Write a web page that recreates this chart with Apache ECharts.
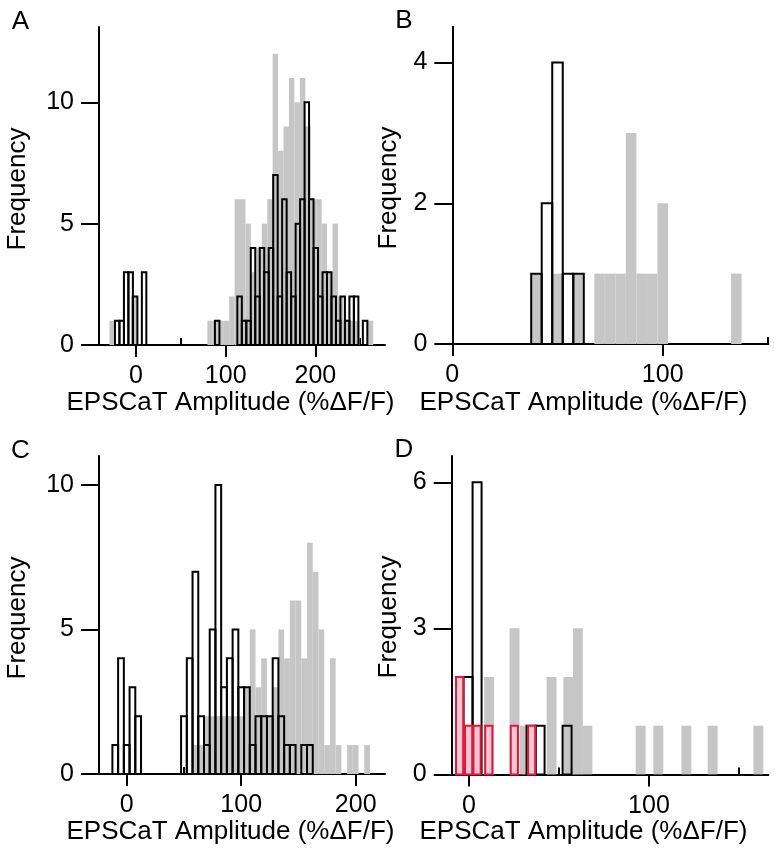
<!DOCTYPE html>
<html><head><meta charset="utf-8">
<script src="https://cdn.jsdelivr.net/npm/echarts@6/dist/echarts.min.js"></script>
<style>html,body{margin:0;padding:0;background:#fff}#c{width:774px;height:853px}</style>
</head><body><div id="c"></div>
<script>
// ---------- data (bin centres, counts) ----------
const xTitle = 'EPSCaT Amplitude (%ΔF/F)';
const yTitle = 'Frequency';
const panelLetters = ['A', 'B', 'C', 'D'];

// Panel A
const aGreyX = [-26.6, -2.3, 82.6, 88.7, 94.8, 100.8, 106.9, 113.0, 119.0, 125.1, 131.2, 137.2, 143.3, 149.4, 155.4, 161.5, 167.6, 173.6, 179.7, 185.8, 191.8, 197.9, 204.0, 210.0, 216.1, 222.2, 228.2, 234.3, 240.4, 246.4, 261.5];
const aGreyN = [1, 2, 1, 1, 1, 1, 2, 6, 6, 5, 3, 4, 5, 6, 12, 8, 9, 11, 10, 11, 9, 6, 6, 5, 3, 5, 2, 1, 1, 1, 1];
const aGreyW = 6.07;
const aBlackX = [-21, -16, -11, -6, -1, 9, 90.5, 115.5, 120.5, 125.5, 130.5, 135.5, 140.5, 145.5, 150.5, 155.5, 160.5, 165.5, 170.5, 175.5, 180.5, 185.5, 190.5, 195.5, 200.5, 205.5, 210.5, 215.5, 220.5, 225.5, 230.5, 235.5, 240.5, 245.5, 255.5];
const aBlackN = [1, 1, 3, 3, 2, 3, 1, 2, 1, 1, 4, 2, 4, 3, 4, 7, 2, 6, 3, 2, 5, 6, 10, 6, 4, 2, 3, 3, 2, 1, 2, 1, 2, 2, 1];
const aBlackW = 5;

// Panel B
const bGreyX = [40, 50, 60, 70, 75, 80, 85, 90, 95, 100, 135];
const bGreyN = [1, 1, 1, 1, 1, 1, 3, 1, 1, 2, 1];
const bGreyW = 5;
const bBlackX = [40, 45, 50, 55, 60];
const bBlackN = [1, 2, 4, 1, 1];
const bBlackW = 5;

// Panel C
const cGreyX = [60, 65, 70, 75, 80, 85, 90, 95, 100, 105, 110, 115, 120, 125, 130, 135, 140, 145, 150, 155, 160, 165, 170, 175, 180, 185, 195, 200, 210];
const cGreyN = [1, 1, 2, 2, 2, 2, 2, 2, 2, 3, 5, 3, 4, 2, 3, 5, 4, 6, 6, 4, 8, 7, 5, 1, 4, 1, 1, 1, 1];
const cGreyW = 5;
const cBlackX = [-10, -5, 0, 5, 10, 50, 55, 60, 65, 70, 75, 80, 85, 90, 95, 100, 105, 110, 115, 120, 125, 130, 135, 140, 145, 155, 160];
const cBlackN = [1, 4, 1, 3, 2, 2, 4, 7, 2, 1, 5, 10, 3, 4, 5, 3, 3, 1, 2, 2, 2, 4, 2, 1, 1, 1, 1];
const cBlackW = 5;

// Panel D
const dGreyX = [11.2, 25.3, 31, 45.9, 55.2, 60.5, 65.8, 95.4, 105.2, 120.8, 135.4, 160.8];
const dGreyN = [2, 3, 1, 2, 2, 3, 1, 1, 1, 1, 1, 1];
const dGreyW = 5.5;
const dBlackX = [-0.5, 4.5, 34.5, 39.5, 54.5];
const dBlackN = [2, 6, 1, 1, 1];
const dBlackW = 5;
const dRedX = [-5.2, -0.2, 4.5, 11, 25.2, 34.8];
const dRedN = [2, 1, 1, 1, 1, 1];
const dRedW = 4;

// axis ranges and ticks
const xRanges = [[-41.3, 277.7], [0, 150.2], [-24.2, 225.6], [-9.6, 166.3]];
const yRanges = [[0, 13.1], [0, 4.51], [0, 11.0], [0, 6.54]];
const xMajor = [[0, 100, 200], [0, 100], [0, 100, 200], [0, 100]];
const xMinor = [[50, 150, 250], [50, 150], [50, 150], [50, 150]];
const yMajor = [[0, 5, 10], [0, 2, 4], [0, 5, 10], [0, 3, 6]];

// ---------- layout ----------
const FONT = 'Liberation Sans, Arial, sans-serif';
const FS = 25;
const grids = [
  { left: 99, top: 27, width: 286, height: 318 },
  { left: 452.3, top: 26.7, width: 316, height: 317.3 },
  { left: 99, top: 456, width: 286, height: 318 },
  { left: 451.7, top: 456, width: 316.6, height: 318.4 }
];
const GREY = '#c6c6c6';

function hist(gi, xs, ns, w, style, z) {
  const data = xs.map((c, i) => [c - w / 2, c + w / 2, ns[i]]).filter(d => d[2] > 0);
  return {
    type: 'custom', xAxisIndex: gi * 2, yAxisIndex: gi, z: z, silent: true,
    encode: { x: [0, 1], y: 2 },
    renderItem: function (params, api) {
      const p0 = api.coord([api.value(0), api.value(2)]);
      const p1 = api.coord([api.value(1), 0]);
      return {
        type: 'rect',
        shape: { x: p0[0], y: p0[1], width: p1[0] - p0[0], height: p1[1] - p0[1] },
        style: style
      };
    },
    data: data
  };
}

const xAxes = [], yAxes = [];
grids.forEach((g, i) => {
  xAxes.push({
    gridIndex: i, type: 'value', min: xRanges[i][0], max: xRanges[i][1],
    axisLine: { show: true, onZero: false, lineStyle: { color: '#000', width: 2 } },
    splitLine: { show: false },
    axisTick: { show: true, customValues: xMajor[i], length: 12, lineStyle: { color: '#000', width: 2 } },
    axisLabel: { customValues: xMajor[i], margin: 19, color: '#000', fontSize: FS, fontFamily: FONT }
  });
  xAxes.push({
    gridIndex: i, type: 'value', min: xRanges[i][0], max: xRanges[i][1],
    axisLine: { show: false },
    splitLine: { show: false },
    axisTick: { show: true, customValues: xMinor[i], length: 7, lineStyle: { color: '#000', width: 2 } },
    axisLabel: { show: false }
  });
  yAxes.push({
    gridIndex: i, type: 'value', min: yRanges[i][0], max: yRanges[i][1],
    axisLine: { show: true, onZero: false, lineStyle: { color: '#000', width: 2 } },
    splitLine: { show: false },
    axisTick: { show: true, customValues: yMajor[i], length: 18, lineStyle: { color: '#000', width: 2 } },
    axisLabel: { customValues: yMajor[i], margin: 25, color: '#000', fontSize: FS, fontFamily: FONT }
  });
});

const greyStyle = { fill: GREY, stroke: null, lineWidth: 0 };
const blackStyle = { fill: 'none', stroke: '#000', lineWidth: 2 };
const redStyle = { fill: '#f6c9d2', stroke: '#e3173e', lineWidth: 2 };

const series = [
  hist(0, aGreyX, aGreyN, aGreyW, greyStyle, 1),
  hist(0, aBlackX, aBlackN, aBlackW, blackStyle, 2),
  hist(1, bGreyX, bGreyN, bGreyW, greyStyle, 1),
  hist(1, bBlackX, bBlackN, bBlackW, blackStyle, 2),
  hist(2, cGreyX, cGreyN, cGreyW, greyStyle, 1),
  hist(2, cBlackX, cBlackN, cBlackW, blackStyle, 2),
  hist(3, dGreyX, dGreyN, dGreyW, greyStyle, 1),
  hist(3, dBlackX, dBlackN, dBlackW, blackStyle, 2),
  hist(3, dRedX, dRedN, dRedW, redStyle, 3)
];

// text positions (panel letters, axis titles)
const letterPos = [[20.5, 21.5], [404, 20.5], [20.5, 450.5], [404, 450]];
const xTitlePos = [[230.5, 403], [583.5, 403], [230.5, 832], [583.5, 832]];
const yTitlePos = [[18, 189], [389, 188], [18, 618], [389, 617]];

const graphics = [];
letterPos.forEach((p, i) => graphics.push({
  type: 'text', x: p[0], y: p[1], silent: true,
  style: { text: panelLetters[i], font: '26px ' + FONT, fill: '#000', textAlign: 'center', textVerticalAlign: 'middle' }
}));
xTitlePos.forEach(p => graphics.push({
  type: 'text', x: p[0], y: p[1], silent: true,
  style: { text: xTitle, font: '26px ' + FONT, fill: '#000', textAlign: 'center', textVerticalAlign: 'middle' }
}));
yTitlePos.forEach(p => graphics.push({
  type: 'text', x: p[0], y: p[1], rotation: Math.PI / 2, silent: true,
  style: { text: yTitle, font: '26px ' + FONT, fill: '#000', textAlign: 'center', textVerticalAlign: 'middle' }
}));

const chart = echarts.init(document.getElementById('c'), null, { renderer: 'canvas' });
chart.setOption({
  animation: false,
  backgroundColor: '#fff',
  grid: grids,
  xAxis: xAxes,
  yAxis: yAxes,
  series: series,
  graphic: graphics
});
</script>
</body></html>
